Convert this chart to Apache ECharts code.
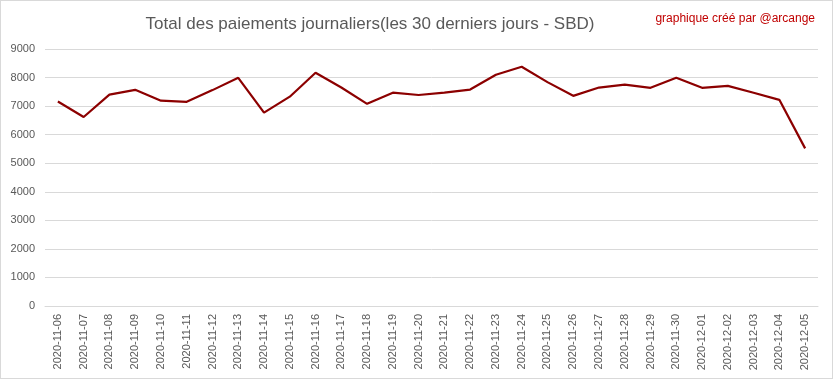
<!DOCTYPE html>
<html>
<head>
<meta charset="utf-8">
<script src="https://cdn.jsdelivr.net/npm/echarts@6/dist/echarts.min.js"></script>
<style>
html,body{margin:0;padding:0;background:#fff;}
#c{width:833px;height:379px;box-sizing:border-box;border:1px solid #d9d9d9;}
</style>
</head>
<body>
<div id="c"></div>
<script>
const dates = ["2020-11-06","2020-11-07","2020-11-08","2020-11-09","2020-11-10","2020-11-11","2020-11-12","2020-11-13","2020-11-14","2020-11-15","2020-11-16","2020-11-17","2020-11-18","2020-11-19","2020-11-20","2020-11-21","2020-11-22","2020-11-23","2020-11-24","2020-11-25","2020-11-26","2020-11-27","2020-11-28","2020-11-29","2020-11-30","2020-12-01","2020-12-02","2020-12-03","2020-12-04","2020-12-05"];
const payments = [7160,6620,7400,7570,7190,7150,7560,7990,6770,7330,8170,7650,7080,7470,7390,7470,7580,8100,8380,7840,7360,7650,7750,7640,7990,7640,7710,7470,7220,5520];
const yTicks = {min:0, max:9000, interval:1000};

const chart = echarts.init(document.getElementById('c'), null, {renderer:'canvas'});
chart.setOption({
  animation:false,
  backgroundColor:'#fff',
  title:[{
    text:'Total des paiements journaliers(les 30 derniers jours - SBD)',
    left:364, top:10, textAlign:'center',
    textStyle:{fontFamily:'Liberation Sans', fontSize:17, fontWeight:'normal', color:'#595959'}
  },{
    text:'graphique créé par @arcange',
    right:12, top:7,
    textStyle:{fontFamily:'Liberation Sans', fontSize:12, fontWeight:'normal', color:'#c00000'}
  }],
  grid:{left:44, right:14, top:48, bottom:72, containLabel:false},
  xAxis:{
    type:'category', data:dates, boundaryGap:true,
    axisLine:{show:true, lineStyle:{color:'#d9d9d9', width:1}},
    axisTick:{show:false},
    axisLabel:{rotate:90, interval:0, margin:8, color:'#595959', fontFamily:'Liberation Sans', fontSize:11}
  },
  yAxis:{
    type:'value', min:yTicks.min, max:yTicks.max, interval:yTicks.interval,
    axisLine:{show:false}, axisTick:{show:false},
    splitLine:{lineStyle:{color:'#d9d9d9', width:1}},
    axisLabel:{margin:10, color:'#595959', fontFamily:'Liberation Sans', fontSize:11, formatter:function(v){return String(v);}}
  },
  series:[{
    type:'line', data:payments, symbol:'none', smooth:false,
    lineStyle:{color:'#8c0000', width:2.2}
  }]
});
</script>
</body>
</html>
